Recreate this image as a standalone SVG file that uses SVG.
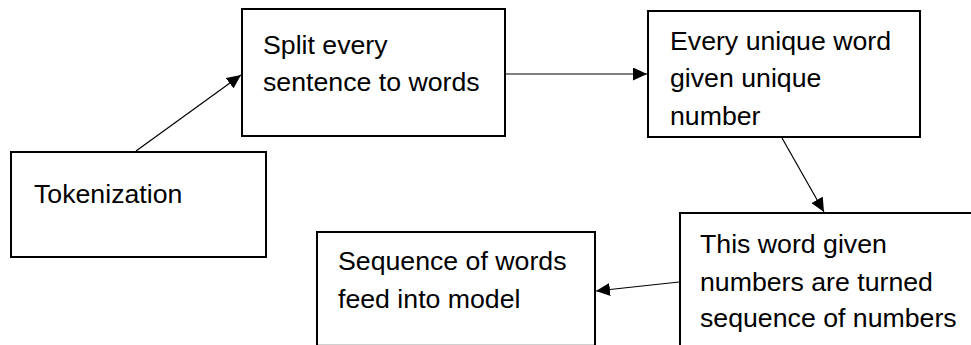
<svg xmlns="http://www.w3.org/2000/svg" width="971" height="345" viewBox="0 0 971 345">
  <style>
    .box { fill: #ffffff; stroke: #000000; stroke-width: 2; }
    .lbl { font-family: "Liberation Sans", Arial, sans-serif; font-size: 26.7px; fill: #000000; }
    .edge { stroke: #000000; stroke-width: 1.2; fill: none; marker-end: url(#head); }
  </style>
  <defs>
    <marker id="head" markerUnits="userSpaceOnUse" markerWidth="15" markerHeight="13" refX="14" refY="6.5" orient="auto">
      <path d="M0,0 L14,6.5 L0,13 Z" fill="#000000"/>
    </marker>
  </defs>

  <rect width="971" height="345" fill="#ffffff"/>

  <g id="connectors">
    <line class="edge" x1="136" y1="151" x2="241" y2="75"/>
    <line class="edge" x1="505" y1="74" x2="647" y2="74"/>
    <line class="edge" x1="782" y1="138" x2="824" y2="212"/>
    <line class="edge" x1="679" y1="282" x2="596" y2="291"/>
  </g>

  <g id="tokenization">
    <rect class="box" x="11" y="152" width="255" height="105"/>
    <text class="lbl" x="34" y="203">Tokenization</text>
  </g>

  <g id="split">
    <rect class="box" x="242" y="9" width="263" height="127"/>
    <text class="lbl" x="263" y="54">Split every</text>
    <text class="lbl" x="263" y="91">sentence to words</text>
  </g>

  <g id="number">
    <rect class="box" x="648" y="11" width="272" height="126"/>
    <text class="lbl" x="670" y="50">Every unique word</text>
    <text class="lbl" x="670" y="87">given unique</text>
    <text class="lbl" x="670" y="125">number</text>
  </g>

  <g id="sequence">
    <rect class="box" x="680" y="213" width="320" height="160"/>
    <text class="lbl" x="700" y="253">This word given</text>
    <text class="lbl" x="700" y="291">numbers are turned</text>
    <text class="lbl" x="700" y="327">sequence of numbers</text>
  </g>

  <g id="model">
    <rect class="box" x="317" y="232" width="278" height="150"/>
    <line x1="318" y1="344.5" x2="594" y2="344.5" stroke="#d0d0d0" stroke-width="1"/>
    <text class="lbl" x="338" y="270">Sequence of words</text>
    <text class="lbl" x="338" y="308">feed into model</text>
  </g>
</svg>
